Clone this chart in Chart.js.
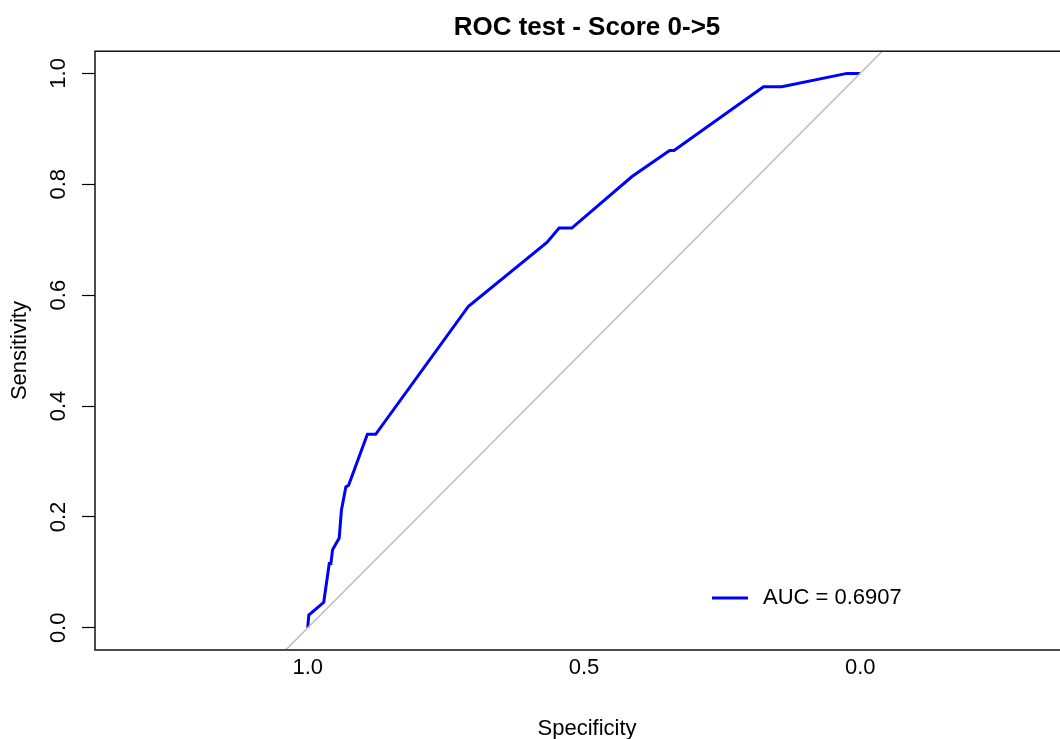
<!DOCTYPE html>
<html>
<head>
<meta charset="utf-8">
<title>ROC test - Score 0->5</title>
<script src="https://cdn.jsdelivr.net/npm/chart.js@4.4.1/dist/chart.umd.min.js"></script>
<style>
  html, body { margin: 0; padding: 0; background: #fff; overflow: hidden; }
  canvas { display: block; }
</style>
</head>
<body>
<canvas id="roc" width="1100" height="739"></canvas>
<script>
// ROC curve points
var specificity = [1.000, 0.998, 0.971, 0.961, 0.958, 0.955, 0.943, 0.939, 0.931, 0.926,
                   0.892, 0.877, 0.709, 0.567, 0.545, 0.522, 0.413, 0.345, 0.337, 0.175,
                   0.142, 0.024, 0.000];
var sensitivity = [0.000, 0.023, 0.046, 0.116, 0.116, 0.141, 0.162, 0.212, 0.254, 0.257,
                   0.349, 0.349, 0.580, 0.695, 0.721, 0.721, 0.814, 0.861, 0.861, 0.976,
                   0.976, 1.000, 1.000];

// chance diagonal
var diagSpec = [1.5, -0.5];
var diagSens = [-0.5, 1.5];

var xTicks = [1.0, 0.5, 0.0];
var yTicks = [0.0, 0.2, 0.4, 0.6, 0.8, 1.0];

var aucLabel = "AUC = 0.6907";
var titleText = "ROC test - Score 0->5";

var FONT = "'Liberation Sans', Arial, Helvetica, sans-serif";

function toPoints(xs, ys) {
    var pts = [];
    for (var i = 0; i < xs.length; i++) pts.push({x: xs[i], y: ys[i]});
    return pts;
}

var boxPlugin = {
    id: 'box',
    beforeDraw: function(chart) {
        var ctx = chart.ctx;
        ctx.save();
        ctx.fillStyle = '#fff';
        ctx.fillRect(0, 0, chart.width, chart.height);
        ctx.restore();
    },
    afterDraw: function(chart) {
        var ctx = chart.ctx, a = chart.chartArea;
        ctx.save();
        ctx.strokeStyle = '#000';
        ctx.lineWidth = 1.4;
        ctx.strokeRect(a.left, a.top, a.right - a.left, a.bottom - a.top);
        ctx.restore();
    }
};

// R style legend, bottom right, no frame
var legendPlugin = {
    id: 'rLegend',
    afterDatasetsDraw: function(chart) {
        var ctx = chart.ctx, a = chart.chartArea;
        var ds = chart.data.datasets[1];
        var y = a.bottom - 52;
        ctx.save();
        ctx.strokeStyle = ds.borderColor;
        ctx.lineWidth = ds.borderWidth;
        ctx.beginPath();
        ctx.moveTo(a.left + 617, y);
        ctx.lineTo(a.left + 653, y);
        ctx.stroke();
        ctx.fillStyle = '#000';
        ctx.font = '22px ' + FONT;
        ctx.textBaseline = 'middle';
        ctx.textAlign = 'left';
        ctx.fillText(ds.label, a.left + 668, y);
        ctx.restore();
    }
};

var ctx = document.getElementById('roc').getContext('2d');
var chart = new Chart(ctx, {
    type: 'line',
    data: {
        datasets: [
            {
                label: 'diagonal',
                data: toPoints(diagSpec, diagSens),
                borderColor: '#BEBEBE',
                borderWidth: 1.5,
                pointRadius: 0,
                tension: 0
            },
            {
                label: aucLabel,
                data: toPoints(specificity, sensitivity),
                borderColor: '#0000FF',
                borderWidth: 3,
                pointRadius: 0,
                tension: 0
            }
        ]
    },
    options: {
        responsive: false,
        animation: false,
        layout: { padding: { top: 0, left: 0, right: 21, bottom: 0 } },
        plugins: {
            legend: { display: false },
            tooltip: { enabled: false },
            title: {
                display: true,
                text: titleText,
                fullSize: false,
                color: '#000',
                font: { family: FONT, size: 26, weight: 'bold' },
                padding: { top: 12, bottom: 8 }
            }
        },
        scales: {
            x: {
                type: 'linear',
                reverse: true,
                min: -0.396,
                max: 1.385,
                afterBuildTicks: function(s) { s.ticks = xTicks.map(function(v) { return {value: v}; }); },
                afterFit: function(s) { s.height = 89; },
                border: { display: false },
                grid: { display: false, drawTicks: false },
                ticks: {
                    autoSkip: false,
                    maxRotation: 0,
                    padding: 5,
                    color: '#000',
                    font: { family: FONT, size: 22 },
                    callback: function(v) { return Number(v).toFixed(1); }
                },
                title: {
                    display: true,
                    text: 'Specificity',
                    color: '#000',
                    font: { family: FONT, size: 22 },
                    padding: { top: 0, bottom: -3 }
                }
            },
            y: {
                type: 'linear',
                min: -0.04,
                max: 1.04,
                afterBuildTicks: function(s) { s.ticks = yTicks.map(function(v) { return {value: v}; }); },
                afterFit: function(s) { s.width = 95; },
                border: { display: false },
                grid: {
                    drawOnChartArea: false,
                    drawTicks: true,
                    tickLength: 13,
                    tickColor: '#000',
                    tickWidth: 1.2
                },
                ticks: {
                    autoSkip: false,
                    minRotation: 90,
                    maxRotation: 90,
                    crossAlign: 'center',
                    padding: 8,
                    color: '#000',
                    font: { family: FONT, size: 22 },
                    callback: function(v) { return Number(v).toFixed(1); }
                },
                title: {
                    display: true,
                    text: 'Sensitivity',
                    color: '#000',
                    font: { family: FONT, size: 22 },
                    padding: { top: 7, bottom: 0 }
                }
            }
        }
    },
    plugins: [boxPlugin, legendPlugin]
});
</script>
</body>
</html>
